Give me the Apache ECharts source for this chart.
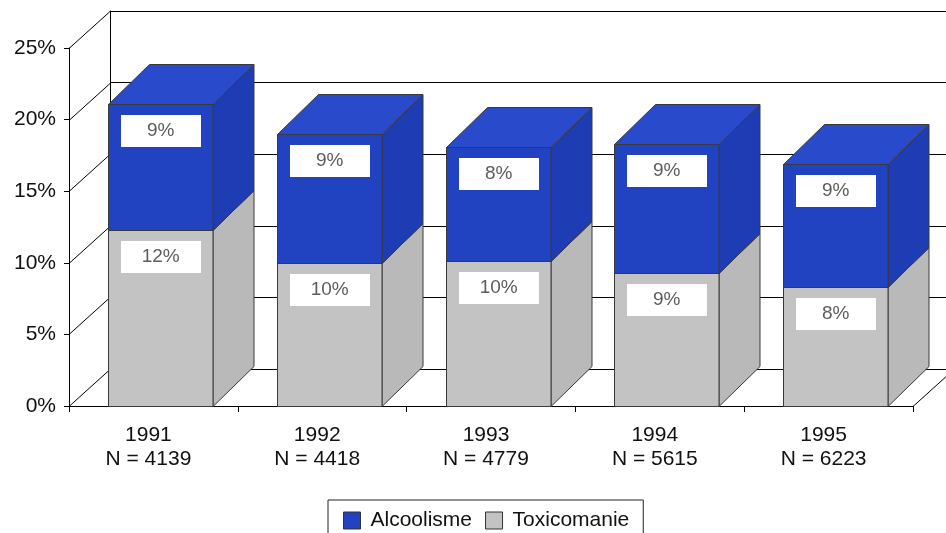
<!DOCTYPE html>
<html>
<head>
<meta charset="utf-8">
<script src="https://cdn.jsdelivr.net/npm/echarts@6/dist/echarts.min.js"></script>
<style>
html,body{margin:0;padding:0;background:#fff;}
#chart{width:946px;height:533px;}
</style>
</head>
<body>
<div id="chart"></div>
<script>
// ---- data ----
const categories = ['1991', '1992', '1993', '1994', '1995'];
const nValues = ['4139', '4418', '4779', '5615', '6223'];
const toxicomanie = [12.3, 10.0, 10.1, 9.3, 8.3];
const alcoolisme = [8.8, 9.0, 8.0, 9.0, 8.6];
const yTicks = [0, 5, 10, 15, 20, 25];
const seriesNames = ['Alcoolisme', 'Toxicomanie'];

// ---- style ----
const FONT = 'Liberation Sans, Arial, Helvetica, sans-serif';
const BAR_RATIO = 0.622;
const BAR_SHIFT = 7;
const BAR_DX = 41, BAR_DY = -40;
const WALL_DX = 41, WALL_DY = -37;
const GRID_LEFT = 69, GRID_TOP = 48, GRID_W = 844, GRID_H = 358;

const blue = { front: '#2143c2', side: '#1e3cb3', top: '#284acb' };
const gray = { front: '#c3c3c3', side: '#b9b9b9', top: '#cdcdcd' };

function barRenderer(colors) {
  return function (params, api) {
    const idx = api.value(0);
    const lo = api.value(1), hi = api.value(2);
    const band = api.size([1, 0])[0];
    const w = band * BAR_RATIO;
    const pTop = api.coord([idx, hi]);
    const pBot = api.coord([idx, lo]);
    const x0 = Math.round(pTop[0] + BAR_SHIFT - w / 2) + 0.5;
    const x1 = Math.round(x0 + w);
    const yt = Math.round(pTop[1]) + 0.5;
    const yb = Math.round(pBot[1]) + 0.5;
    const dx = BAR_DX, dy = BAR_DY;
    const edge = '#3a3a3a';
    const cx = (x0 + x1) / 2;
    const txt = Math.round(hi - lo) + '%';
    return {
      type: 'group',
      children: [
        { type: 'polygon', shape: { points: [[x1, yb], [x1 + dx, yb + dy], [x1 + dx, yt + dy], [x1, yt]] },
          style: { fill: colors.side, stroke: edge, lineWidth: 1 } },
        { type: 'polygon', shape: { points: [[x0, yt], [x1, yt], [x1 + dx, yt + dy], [x0 + dx, yt + dy]] },
          style: { fill: colors.top, stroke: edge, lineWidth: 1 } },
        { type: 'rect', shape: { x: x0, y: yt, width: x1 - x0, height: yb - yt },
          style: { fill: colors.front, stroke: edge, lineWidth: 1 } },
        { type: 'rect', shape: { x: Math.round(cx - 40), y: Math.round(yt + 10), width: 80, height: 32 },
          style: { fill: '#ffffff' } },
        { type: 'text', style: { text: txt, x: cx, y: yt + 10 + 16, align: 'center', verticalAlign: 'middle',
          font: '19px ' + FONT, fill: '#5c5c5c' } }
      ]
    };
  };
}

function wallRenderer(params, api) {
  const v = api.value(1);
  const y = Math.round(api.coord([0, v])[1]) + 0.5;
  const cs = params.coordSys;
  const children = [
    { type: 'line', shape: { x1: cs.x, y1: y, x2: cs.x + WALL_DX, y2: y + WALL_DY },
      style: { stroke: '#000', lineWidth: 1 } }
  ];
  if (v === 0) {
    children.push({ type: 'line', shape: { x1: cs.x + cs.width, y1: y, x2: cs.x + cs.width + WALL_DX, y2: y + WALL_DY },
      style: { stroke: '#000', lineWidth: 1 } });
  }
  return { type: 'group', children };
}

const toxData = categories.map((c, i) => [i, 0, toxicomanie[i]]);
const alcData = categories.map((c, i) => [i, toxicomanie[i], toxicomanie[i] + alcoolisme[i]]);

const chart = echarts.init(document.getElementById('chart'), null, { renderer: 'canvas' });
chart.setOption({
  backgroundColor: '#ffffff',
  animation: false,
  textStyle: { fontFamily: FONT },
  grid: [
    { left: GRID_LEFT, top: GRID_TOP, width: GRID_W, height: GRID_H },
    { left: GRID_LEFT + WALL_DX, top: GRID_TOP + WALL_DY, width: GRID_W, height: GRID_H }
  ],
  xAxis: [
    { type: 'category', gridIndex: 0, data: categories,
      axisLine: { show: true, lineStyle: { color: '#000', width: 1 } },
      axisTick: { show: true, interval: 0, length: 6, lineStyle: { color: '#000' } },
      axisLabel: { interval: 0, color: '#111', fontSize: 21, lineHeight: 24, margin: 17,
        padding: [0, 10, 0, 0],
        formatter: (v, i) => v + '\nN = ' + nValues[i] } },
    { type: 'category', gridIndex: 1, data: categories, show: false }
  ],
  yAxis: [
    { type: 'value', gridIndex: 0, min: 0, max: 25, interval: 5,
      axisLine: { show: true, lineStyle: { color: '#000', width: 1 } },
      axisTick: { show: true, length: 5, lineStyle: { color: '#000' } },
      axisLabel: { formatter: '{value}%', color: '#111', fontSize: 21, margin: 13 },
      splitLine: { show: false } },
    { type: 'value', gridIndex: 1, min: 0, max: 25, interval: 5,
      axisLine: { show: true, lineStyle: { color: '#000', width: 1 } },
      axisTick: { show: false }, axisLabel: { show: false },
      splitLine: { show: true, lineStyle: { color: '#000', width: 1 } } }
  ],
  legend: {
    data: seriesNames,
    left: 328, top: 500,
    padding: [10, 14, 10, 15],
    itemWidth: 17, itemHeight: 17, itemGap: 13,
    icon: 'rect',
    backgroundColor: '#ffffff', borderColor: '#222', borderWidth: 1,
    itemStyle: { borderColor: '#333', borderWidth: 1 },
    textStyle: { fontSize: 21, color: '#111', padding: [0, 0, 0, 5] }
  },
  series: [
    { type: 'custom', name: 'walls', xAxisIndex: 0, yAxisIndex: 0, silent: true, z: 1,
      renderItem: wallRenderer, data: yTicks.map(v => [0, v]), encode: { x: 0, y: 1 } },
    { type: 'custom', name: 'Toxicomanie', xAxisIndex: 0, yAxisIndex: 0, z: 3,
      itemStyle: { color: gray.front }, renderItem: barRenderer(gray), data: toxData,
      encode: { x: 0, y: [1, 2] } },
    { type: 'custom', name: 'Alcoolisme', xAxisIndex: 0, yAxisIndex: 0, z: 4,
      itemStyle: { color: blue.front }, renderItem: barRenderer(blue), data: alcData,
      encode: { x: 0, y: [1, 2] } }
  ]
});
</script>
</body>
</html>
